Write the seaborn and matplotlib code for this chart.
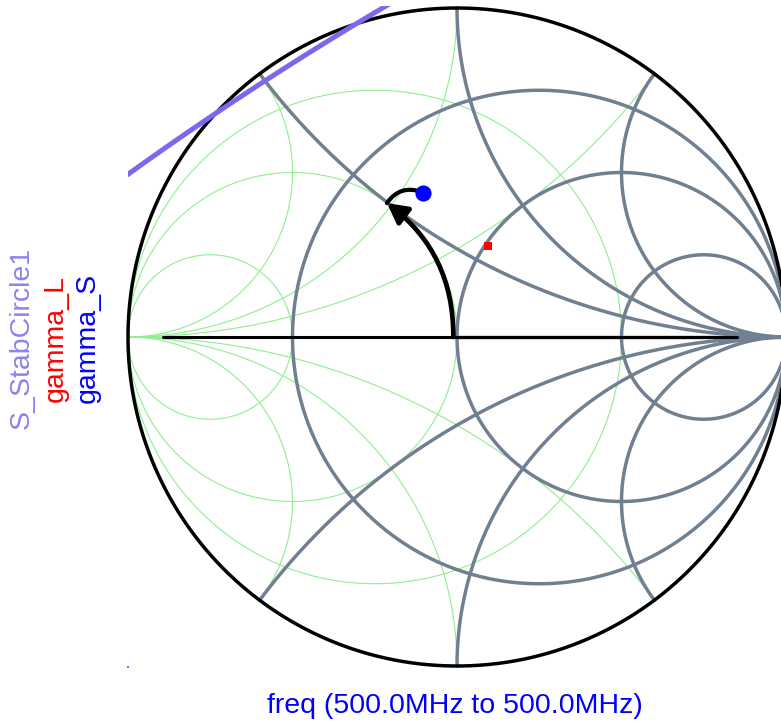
import numpy as np
import pandas as pd
import matplotlib
matplotlib.use("Agg")
import matplotlib.pyplot as plt
from matplotlib.patches import Rectangle, FancyArrowPatch
import seaborn as sns

# ---------------- data ----------------
r_circles = [1/3, 1.0, 3.0]          # constant-resistance circles (impedance grid)
x_arcs = [0.5, 1.0, 2.0]             # constant-reactance arcs (+/-)
g_circles = [1/3, 1.0, 3.0]          # constant-conductance circles (admittance grid)
b_arcs = [0.5, 1.0, 2.0]             # constant-susceptance arcs (+/-)

gamma_S_re = [-0.103]
gamma_S_im = [0.438]
gamma_L_re = [0.094]
gamma_L_im = [0.277]

stab_center = [5.1, -8.0]            # S_StabCircle1 centre (reflection plane)
stab_radius = 10.458
stab_dot = [-1.0, -1.003]

axis_black = [-0.894, 0.851]
arrow_start = [-0.011, 0.0]
arrow_tip = [-0.213, 0.407]

labels = ["S_StabCircle1", "gamma_L", "gamma_S"]
label_colors = ["#8C82F0", "#FF0000", "#0000FF"]
label_x_px = [22, 56, 88]
freq_label = "freq (500.0MHz to 500.0MHz)"

# ---------------- style ----------------
sns.set_theme(style="white")
plt.rcParams["font.family"] = ["Liberation Sans", "DejaVu Sans"]

W, H = 781, 721
CX, CY, R = 457, 337, 329
fig = plt.figure(figsize=(W / 100, H / 100), dpi=100)
ax = fig.add_axes([0, 0, 1, 1])
ax.set_xlim(-CX / R, (W - CX) / R)
ax.set_ylim((CY - H) / R, CY / R)
ax.set_axis_off()

GREEN = "#90EE90"
GRAY = "#708090"
t = np.linspace(0, 2 * np.pi, 721)
rr = np.concatenate([[0.0], np.geomspace(1e-3, 1e4, 800)])

# admittance grid (green)
ax.plot([-1, 1], [0, 0], color=GREEN, lw=0.8, zorder=1)
for g in g_circles:
    c, rad = -g / (1 + g), 1 / (1 + g)
    ax.plot(c + rad * np.cos(t), rad * np.sin(t), color=GREEN, lw=0.8, zorder=1)
for b in b_arcs:
    for s in (1, -1):
        y = rr + 1j * s * b
        G = (1 - y) / (1 + y)
        ax.plot(G.real, G.imag, color=GREEN, lw=0.8, zorder=1)

# impedance grid (gray)
ax.plot([0, 1], [0, 0], color=GRAY, lw=2.5, zorder=2)
for r in r_circles:
    c, rad = r / (1 + r), 1 / (1 + r)
    ax.plot(c + rad * np.cos(t), rad * np.sin(t), color=GRAY, lw=2.5, zorder=2)
for x in x_arcs:
    for s in (1, -1):
        z = rr + 1j * s * x
        G = (z - 1) / (z + 1)
        ax.plot(G.real, G.imag, color=GRAY, lw=2.5, zorder=2)

# outer circle and axis
ax.plot(np.cos(t), np.sin(t), color="black", lw=2.5, zorder=3)
ax.plot(axis_black, [0, 0], color="black", lw=2.2, zorder=3)

# stability circle
ts = np.linspace(0, 2 * np.pi, 40000)
stab = pd.DataFrame({"re": stab_center[0] + stab_radius * np.cos(ts),
                     "im": stab_center[1] + stab_radius * np.sin(ts)})
sns.lineplot(data=stab, x="re", y="im", sort=False, estimator=None,
             color="#7B68EE", lw=3.6, ax=ax, zorder=4)
clip = Rectangle((-1, -1.0), 2, 2.006, transform=ax.transData, fill=False, lw=0)
ax.add_patch(clip)
ax.lines[-1].set_clip_path(clip)
ax.scatter([stab_dot[0]], [stab_dot[1]], s=4, color="#7B68EE", marker="s",
           linewidths=0, zorder=4)

# arrow
arr = FancyArrowPatch(tuple(arrow_start), tuple(arrow_tip),
                      connectionstyle="arc3,rad=0.25",
                      arrowstyle="-|>,head_length=0.6,head_width=0.32",
                      mutation_scale=20, lw=3.4, color="black",
                      shrinkA=0, shrinkB=0, zorder=5)
ax.add_patch(arr)
hook = FancyArrowPatch(tuple(arrow_tip), (gamma_S_re[0] - 0.005, gamma_S_im[0] + 0.003),
                       connectionstyle="arc3,rad=-0.38", arrowstyle="-",
                       lw=3.0, color="black", shrinkA=0, shrinkB=0, zorder=5)
ax.add_patch(hook)

# gamma points
sns.scatterplot(x=gamma_S_re, y=gamma_S_im, ax=ax, s=135, color="#0000FF",
                marker="o", linewidth=0, zorder=6)
sns.scatterplot(x=gamma_L_re, y=gamma_L_im, ax=ax, s=40, color="#FF0000",
                marker="s", linewidth=0, zorder=6)
if ax.get_legend() is not None:
    ax.get_legend().remove()

# texts
for lab, col, xp in zip(labels, label_colors, label_x_px):
    fig.text(xp / W, 1 - 338 / H, lab, rotation=90, ha="center", va="center",
             color=col, fontsize=20.5)
fig.text(455 / W, 1 - 706 / H, freq_label, ha="center", va="center",
         color="#0000FF", fontsize=20.5)

fig.savefig("out.png", dpi=100)
